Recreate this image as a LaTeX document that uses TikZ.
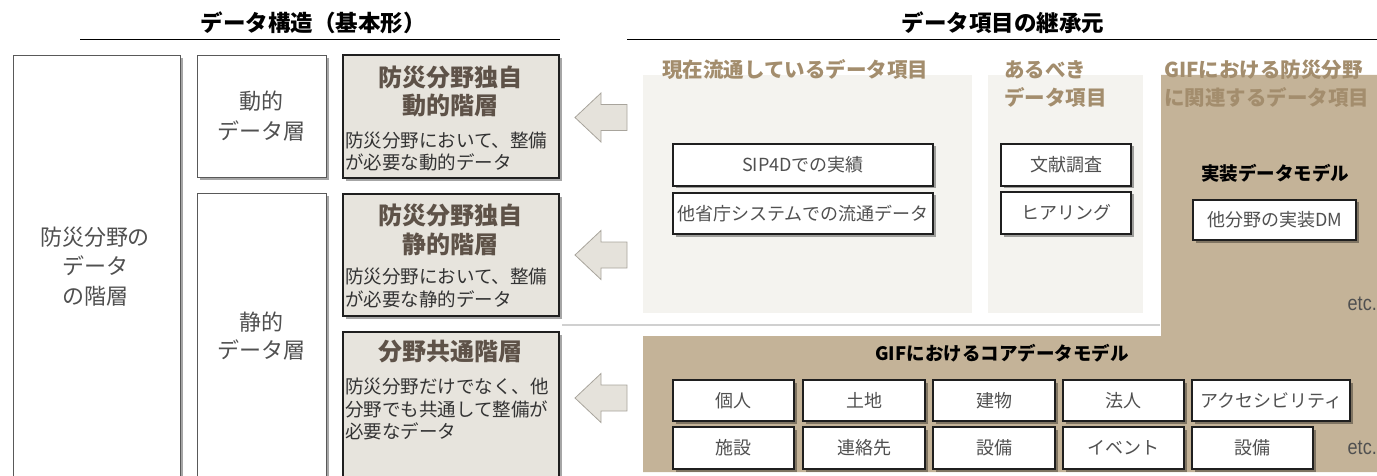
\documentclass[tikz,border=0pt]{standalone}
\usepackage{fontspec}
\setmainfont{Noto Sans CJK JP}
\newfontfamily\etcfont[FakeStretch=0.86]{Liberation Sans}
\usetikzlibrary{shadows}
\definecolor{titlebrown}{HTML}{A38D6D}
\definecolor{tanbg}{HTML}{C4B398}
\definecolor{panelbg}{HTML}{F4F3EF}
\definecolor{hierfill}{HTML}{E7E4DD}
\definecolor{hiertitle}{HTML}{5E5248}
\definecolor{arrowfill}{HTML}{E5E2DB}
\definecolor{arrowline}{HTML}{A8A49C}
\definecolor{txtgray}{HTML}{505050}
\definecolor{sepgray}{HTML}{D0D0D0}
\begin{document}
\begin{tikzpicture}[x=1pt,y=-1pt,
  shadowed/.style={drop shadow={shadow xshift=2.5pt,shadow yshift=-2.5pt,opacity=0.35,fill=black}},
  outerbox/.style={draw=black!65,line width=0.8pt,fill=white,shadowed,anchor=north west,inner sep=0pt},
  hierbox/.style={draw=black!88,line width=2.2pt,fill=hierfill,shadowed,anchor=north west,inner sep=0pt},
  itembox/.style={draw=black!88,line width=2pt,fill=white,shadowed,anchor=north west,inner sep=0pt,
    font=\fontsize{18}{21}\selectfont,text=txtgray},
  panel/.style={fill=panelbg,draw=none,anchor=north west,inner sep=0pt},
  headtitle/.style={font=\bfseries\fontsize{22.5}{26}\selectfont,text=black},
  lefttext/.style={font=\fontsize{22}{29.5}\selectfont,text=txtgray,align=center},
  hiertitletext/.style={font=\bfseries\fontsize{24}{28.5}\selectfont,text=hiertitle,align=center},
  hierdesc/.style={font=\fontsize{18.5}{22.5}\selectfont,text=black!80,align=left,anchor=west,inner sep=0pt},
  paneltitle/.style={font=\bfseries\fontsize{20.5}{28}\selectfont,text=titlebrown,align=left,anchor=west,inner sep=0pt},
  modeltitle/.style={font=\bfseries\fontsize{18.5}{22}\selectfont,text=black},
  etctext/.style={font=\etcfont\fontsize{21}{23}\selectfont,text=txtgray,anchor=east,inner sep=0pt},
  blockarrow/.style={fill=arrowfill,draw=arrowline,line width=0.8pt,line join=miter}
]
\useasboundingbox (0,0) rectangle (1377,476);
\clip (0,0) rectangle (1377,476);

% headings
\node[headtitle] (h1) at (313,23) {データ構造（基本形）};
\node[headtitle] (h2) at (1003,23) {データ項目の継承元};
\coordinate (h1l) at (80,39);  \coordinate (h1r) at (560,39);
\coordinate (h2l) at (627,39); \coordinate (h2r) at (1377,39);
\draw[line width=0.9pt] (h1l) -- (h1r);
\draw[line width=0.9pt] (h2l) -- (h2r);

% left structure
\node[outerbox,minimum width=167,minimum height=430] (colA) at (13,55) {};
\node[lefttext] (colAt) at (95,266.5) {防災分野の\\データ\\の階層};
\node[outerbox,minimum width=129,minimum height=122] (dyn) at (197,55) {};
\node[lefttext,font=\fontsize{22}{30}\selectfont] (dynt) at (261,116) {動的\\データ層};
\node[outerbox,minimum width=129,minimum height=295] (sta) at (197,193) {};
\node[lefttext,font=\fontsize{22}{28}\selectfont] (stat) at (261,336) {静的\\データ層};

\node[hierbox,minimum width=216,minimum height=123] (hA) at (342,54) {};
\node[hiertitletext] (hAt) at (450,91.5) {防災分野独自\\動的階層};
\node[hierdesc] (hAd) at (345,151.5) {防災分野において、整備\\が必要な動的データ};

\node[hierbox,minimum width=216,minimum height=122] (hB) at (342,193) {};
\node[hiertitletext] (hBt) at (450,230) {防災分野独自\\静的階層};
\node[hierdesc] (hBd) at (345,288) {防災分野において、整備\\が必要な静的データ};

\node[hierbox,minimum width=216,minimum height=155] (hC) at (342,331) {};
\node[hiertitletext] (hCt) at (450,352) {分野共通階層};
\node[hierdesc] (hCd) at (345,409) {防災分野だけでなく、他\\分野でも共通して整備が\\必要なデータ};

% arrows
\foreach \cy/\nm in {117.5/aA,255/aB,398/aC}{
  \draw[blockarrow] (575,\cy) -- (601,\cy-24.5) -- (601,\cy-13) -- (627,\cy-13)
     -- (627,\cy+13) -- (601,\cy+13) -- (601,\cy+24.5) -- cycle;
}

% right side panels
\fill[tanbg] (1161,75) -- (1377,75) -- (1377,472) -- (643,472) -- (643,336) -- (1161,336) -- cycle;
\node[panel,minimum width=329,minimum height=238] (p1) at (643,75) {};
\node[panel,minimum width=155,minimum height=238] (p2) at (988,75) {};
\coordinate (sepl) at (562,325); \coordinate (sepr) at (1160,325);
\draw[sepgray,line width=1.5pt] (sepl) -- (sepr);

\node[paneltitle] (p1t) at (662,70) {現在流通しているデータ項目};
\node[paneltitle] (p2t) at (1004,84) {あるべき\\データ項目};
\node[paneltitle] (p3t) at (1164,84) {GIFにおける防災分野\\に関連するデータ項目};

\node[itembox,minimum width=260,minimum height=42] (sip) at (672,143) {SIP4Dでの実績};
\node[itembox,minimum width=260,minimum height=41] (oth) at (672,192) {他省庁システムでの流通データ};
\node[itembox,minimum width=130,minimum height=42] (bun) at (1000,143) {文献調査};
\node[itembox,minimum width=130,minimum height=42] (hea) at (1000,191) {ヒアリング};

\node[modeltitle] (impt) at (1275,173) {実装データモデル};
\node[itembox,minimum width=163,minimum height=40] (impdm) at (1192,199) {他分野の実装DM};
\node[etctext] (etc1) at (1377,304) {etc.};

\node[modeltitle] (coret) at (1002,353) {GIFにおけるコアデータモデル};
\node[itembox,minimum width=121,minimum height=41] (c11) at (672,379) {個人};
\node[itembox,minimum width=122,minimum height=41] (c12) at (802,379) {土地};
\node[itembox,minimum width=122,minimum height=41] (c13) at (932,379) {建物};
\node[itembox,minimum width=121,minimum height=41] (c14) at (1062,379) {法人};
\node[itembox,minimum width=158,minimum height=41] (c15) at (1191,379) {アクセシビリティ};
\node[itembox,minimum width=121,minimum height=42] (c21) at (672,426) {施設};
\node[itembox,minimum width=122,minimum height=42] (c22) at (802,426) {連絡先};
\node[itembox,minimum width=122,minimum height=42] (c23) at (932,426) {設備};
\node[itembox,minimum width=121,minimum height=42] (c24) at (1062,426) {イベント};
\node[itembox,minimum width=121,minimum height=42] (c25) at (1191,426) {設備};
\node[etctext] (etc2) at (1377,448) {etc.};
\end{tikzpicture}
\end{document}
